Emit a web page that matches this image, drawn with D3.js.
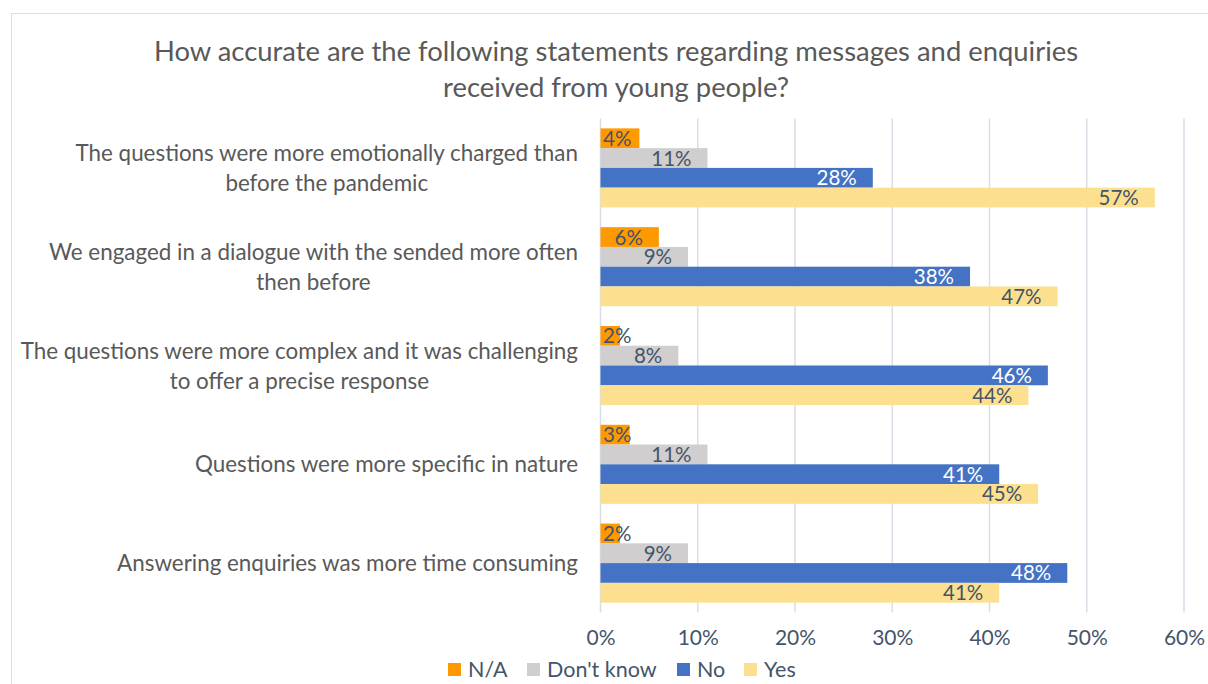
<!DOCTYPE html>
<html>
<head>
<meta charset="utf-8">
<script src="https://cdn.jsdelivr.net/npm/d3@7"></script>
<style>
  html, body { margin: 0; padding: 0; background: #fff; }
  svg { display: block; font-family: Lato, "Open Sans", sans-serif; }
</style>
</head>
<body>
<svg id="chart" width="1208" height="684"></svg>
<script>
const titleLines = ["How accurate are the following statements regarding messages and enquiries", "received from young people?"];
const categories = [
  "The questions were more emotionally charged than\nbefore the pandemic",
  "We engaged in a dialogue with the sended more often\nthen before",
  "The questions were more complex and it was challenging\nto offer a precise response",
  "Questions were more specific in nature",
  "Answering enquiries was more time consuming"
];
const seriesNames = ["N/A", "Don't know", "No", "Yes"];
const seriesColors = ["#FF9900", "#D0CECE", "#4472C4", "#FCE08F"];
const naValues = [4, 6, 2, 3, 2];
const dontKnowValues = [11, 9, 8, 11, 9];
const noValues = [28, 38, 46, 41, 48];
const yesValues = [57, 47, 44, 45, 41];
const xTicks = [0, 10, 20, 30, 40, 50, 60];

const seriesValues = [naValues, dontKnowValues, noValues, yesValues];
const labelColors = ["#44546A", "#44546A", "#FFFFFF", "#44546A"];

const svg = d3.select("#chart");

// outer chart border
svg.append("rect").attr("x", 11.5).attr("y", 13.5).attr("width", 1210).attr("height", 700)
  .attr("fill", "none").attr("stroke", "#DADDE3").attr("stroke-width", 1);

const x = d3.scaleLinear().domain([0, 60]).range([600.5, 1184]);
const y0 = d3.scaleBand().domain(categories).range([118.5, 612.5]).paddingInner(0.2).paddingOuter(0.1);
const y1 = d3.scaleBand().domain(seriesNames).range([0, y0.bandwidth()]);

// title
svg.append("g").selectAll("text").data(titleLines).join("text")
  .attr("x", 616).attr("y", (d, i) => 61 + i * 36)
  .attr("text-anchor", "middle").attr("font-size", 27.4).attr("fill", "#595959")
  .text(d => d);

// gridlines
svg.append("g").selectAll("line").data(xTicks).join("line")
  .attr("x1", d => x(d)).attr("x2", d => x(d))
  .attr("y1", 118.5).attr("y2", 612.5)
  .attr("stroke", "#D9DEE6").attr("stroke-width", 1.5);

// x axis tick labels
const xAxis = d3.axisBottom(x).tickValues(xTicks).tickFormat(d => d + "%").tickSize(0).tickPadding(0);
const xg = svg.append("g").attr("transform", "translate(0,630)").call(xAxis);
xg.select(".domain").remove();
xg.selectAll("text").attr("font-size", 21).attr("fill", "#44546A").attr("font-family", "Lato, sans-serif");

// category labels
const catG = svg.append("g");
categories.forEach(c => {
  const lines = c.split("\n");
  const cy = y0(c) + y0.bandwidth() / 2;
  const t = catG.append("text").attr("font-size", 22.4).attr("fill", "#595959").attr("text-anchor", "middle");
  const tspans = lines.map((l, i) => t.append("tspan").attr("y", cy + 8 + (i - (lines.length - 1) / 2) * 30).text(l));
  const maxW = d3.max(tspans, ts => ts.node().getComputedTextLength());
  const cx = 578 - maxW / 2;
  tspans.forEach(ts => ts.attr("x", cx));
});

// bars
const groups = svg.append("g").selectAll("g").data(categories).join("g")
  .attr("transform", c => `translate(0,${y0(c)})`);

groups.each(function(c, ci) {
  const g = d3.select(this);
  seriesNames.forEach((s, si) => {
    const v = seriesValues[si][ci];
    g.append("rect")
      .attr("x", x(0)).attr("y", y1(s))
      .attr("width", x(v) - x(0)).attr("height", y1.bandwidth())
      .attr("fill", seriesColors[si]);
  });
  seriesNames.forEach((s, si) => {
    const v = seriesValues[si][ci];
    const t = g.append("text")
      .attr("y", y1(s) + y1.bandwidth() / 2 + 7.5)
      .attr("font-size", 20.5).attr("fill", labelColors[si])
      .attr("text-anchor", "end").text(v + "%");
    const w = t.node().getComputedTextLength();
    let right = x(v) - 16;
    if (right - w < 603) right = 603 + w;
    t.attr("x", right);
  });
});

// legend
const legendX = [448, 527, 677, 744];
const lg = svg.append("g").selectAll("g").data(seriesNames).join("g")
  .attr("transform", (d, i) => `translate(${legendX[i]},663)`);
lg.append("rect").attr("width", 13).attr("height", 13).attr("fill", (d, i) => seriesColors[i]);
lg.append("text").attr("x", 20).attr("y", 14).attr("font-size", 21.5).attr("fill", "#44546A").text(d => d);
</script>
</body>
</html>
